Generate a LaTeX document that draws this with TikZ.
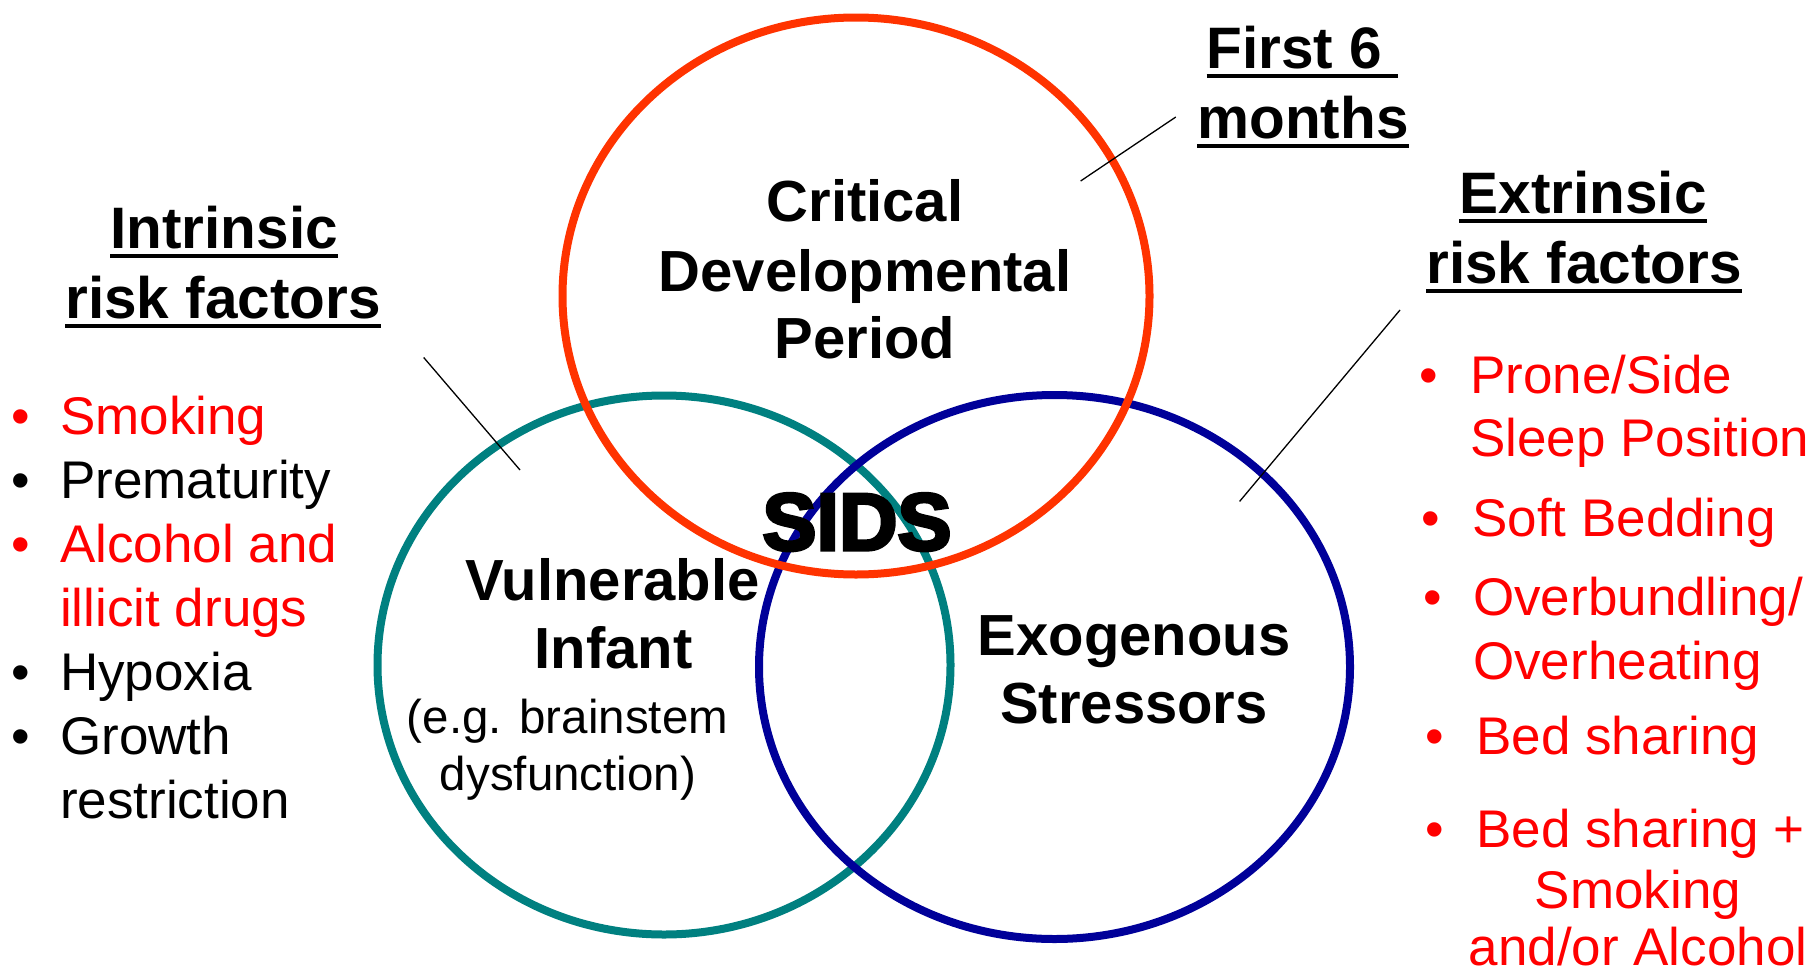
\documentclass[tikz,border=0pt]{standalone}
\usepackage{fontspec}
\setmainfont{Liberation Sans}
\newfontfamily\sidsfont{Liberation Sans}[BoldFeatures={FakeBold=4}]
\usetikzlibrary{shapes.geometric}
\definecolor{venred}{RGB}{255,51,0}
\definecolor{venteal}{RGB}{0,128,128}
\definecolor{vennavy}{RGB}{0,0,153}
\definecolor{txtred}{RGB}{255,0,0}
\newcommand\myul[1]{\setbox0\hbox{#1}\rlap{\rule[-0.165em]{\wd0}{0.07em}}\box0}
\tikzset{
  ring/.style={ellipse, line width=8pt, inner sep=0pt},
  lead/.style={line width=1.3pt, black},
  lbl/.style={inner sep=0pt, anchor=base, font=\fontsize{58}{68}\selectfont\bfseries},
  head/.style={inner sep=0pt, anchor=base, font=\fontsize{58.5}{70}\selectfont\bfseries},
  item/.style={inner sep=0pt, anchor=base west, font=\fontsize{53}{64}\selectfont},
  ctritem/.style={inner sep=0pt, anchor=base, font=\fontsize{53}{64}\selectfont},
  dot/.style={inner sep=0pt, anchor=base, font=\fontsize{53}{64}\selectfont},
  sub/.style={inner sep=0pt, anchor=base, font=\fontsize{47.5}{57}\selectfont},
}
\begin{document}
\begin{tikzpicture}[x=1pt,y=-1pt]
\useasboundingbox (0,0) rectangle (1820,977);
\fill[white] (0,0) rectangle (1820,977);
% circles
\node[ring, draw=venteal, minimum width=573pt, minimum height=539pt] (vi) at (664,665) {};
\node[ring, draw=vennavy, minimum width=591pt, minimum height=544pt] (es) at (1054.5,667) {};
\node[ring, draw=venred, minimum width=587pt, minimum height=557pt] (cdp) at (856,296) {};
% leader lines
\coordinate (f6a) at (1080.6,181);
\coordinate (f6b) at (1175.8,117);
\coordinate (ina) at (423.7,357.5);
\coordinate (inb) at (520,470);
\coordinate (exa) at (1400,310);
\coordinate (exb) at (1239.6,501.4);
\draw[lead] (f6a) -- (f6b);
\draw[lead] (ina) -- (inb);
\draw[lead] (exa) -- (exb);
% circle labels
\node[lbl] (c1) at (865,221.7) {Critical};
\node[lbl] (c2) at (865,291.7) {Developmental};
\node[lbl] (c3) at (865,358.3) {Period};
\node[lbl] (v1) at (612.5,600) {Vulnerable};
\node[lbl] (v2) at (613.5,668) {Infant};
\node[sub] (v3) at (567.5,733) {(e.g. brainstem};
\node[sub] (v4) at (568,790) {dysfunction)};
\node[lbl] (e1) at (1134,655) {Exogenous};
\node[lbl] (e2) at (1134,723) {Stressors};
\node[inner sep=0pt, anchor=base, font=\fontsize{81}{90}\sidsfont\bfseries] (sids) at (857,550) {SIDS};
% headings
\node[head] (h1) at (224,248.3) {\myul{Intrinsic}};
\node[head] (h2) at (223,318.3) {\myul{risk factors}};
\node[head] (h3) at (1583,213.5) {\myul{Extrinsic}};
\node[head] (h4) at (1584,283) {\myul{risk factors}};
\node[head] (h5) at (1302.5,68) {\myul{First 6\ }};
\node[head] (h6) at (1303,138) {\myul{months}};
% left list
\node[dot,txtred] (lb1) at (21,434) {•};
\node[item,txtred] (l1) at (60,434) {Smoking};
\node[dot] (lb2) at (21,498) {•};
\node[item] (l2) at (60,498) {Prematurity};
\node[dot,txtred] (lb3) at (21,562) {•};
\node[item,txtred] (l3) at (60,562) {Alcohol and};
\node[item,txtred] (l4) at (60,626) {illicit drugs};
\node[dot] (lb5) at (21,690) {•};
\node[item] (l5) at (60,690) {Hypoxia};
\node[dot] (lb6) at (21,754) {•};
\node[item] (l6) at (60,754) {Growth};
\node[item] (l7) at (60,818) {restriction};
% right list
\node[dot,txtred] (rb1) at (1429,393.5) {•};
\node[item,txtred] (r1) at (1470,393.5) {Prone/Side};
\node[item,txtred] (r2) at (1470,456) {Sleep Position};
\node[dot,txtred] (rb3) at (1431,536) {•};
\node[item,txtred] (r3) at (1472,536) {Soft Bedding};
\node[dot,txtred] (rb4) at (1433,615) {•};
\node[item,txtred] (r4) at (1473,615) {Overbundling/};
\node[item,txtred] (r5) at (1473,679) {Overheating};
\node[dot,txtred] (rb6) at (1435,754.5) {•};
\node[item,txtred] (r6) at (1476,754.5) {Bed sharing};
\node[dot,txtred] (rb7) at (1435,847) {•};
\node[item,txtred] (r7) at (1476,847) {Bed sharing +};
\node[ctritem,txtred] (r8) at (1638,908) {Smoking};
\node[ctritem,txtred] (r9) at (1638,965) {and/or Alcohol};
\end{tikzpicture}
\end{document}
